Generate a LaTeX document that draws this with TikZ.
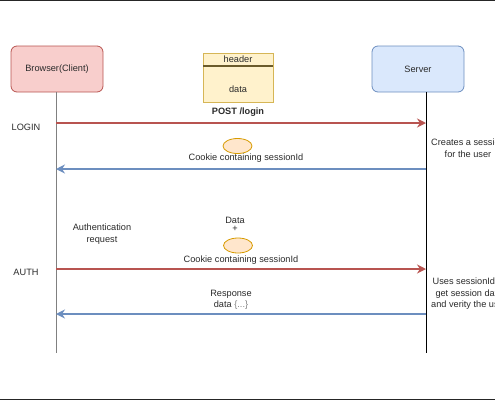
\documentclass[tikz,border=0pt]{standalone}
\usepackage{fontspec}
\setmainfont{Liberation Sans}
\usetikzlibrary{arrows.meta,shapes.geometric}
\definecolor{redfill}{HTML}{F8CECC}
\definecolor{redline}{HTML}{B85450}
\definecolor{bluefill}{HTML}{DAE8FC}
\definecolor{blueline}{HTML}{6C8EBF}
\definecolor{yelfill}{HTML}{FFF2CC}
\definecolor{yelline}{HTML}{D6B656}
\definecolor{orfill}{HTML}{FFE6CC}
\definecolor{orline}{HTML}{D79B00}
\definecolor{txt}{HTML}{2A2A2A}
\tikzset{
  actor/.style={draw, rounded corners=6pt, minimum width=92pt, minimum height=46pt, line width=0.8pt, text=txt, font=\fontsize{9.2}{11}\selectfont},
  lbl/.style={text=txt, font=\fontsize{9.2}{11.5}\selectfont, align=center, inner sep=0pt},
  cookie/.style={draw=orline, fill=orfill, ellipse, line width=0.8pt},
  req/.style={draw=redline, line width=1.6pt, -{Stealth[length=9pt,width=9pt]}},
  resp/.style={draw=blueline, line width=1.6pt, -{Stealth[length=9pt,width=9pt]}},
}
\begin{document}
\begin{tikzpicture}[x=1pt,y=-1pt]
\useasboundingbox (0,0) rectangle (495,400);
\clip (0,0) rectangle (495,400);
\fill[black!85] (0,0) rectangle (495,1.3);
\fill[black!85] (0,398.7) rectangle (495,400);

\node[actor, fill=redfill, draw=redline] (browser) at (57,69) {Browser(Client)};
\node[actor, fill=bluefill, draw=blueline] (server) at (418,69) {Server};

\coordinate (btop) at (56,92);
\coordinate (bend) at (56,353);
\coordinate (stop) at (426,92);
\coordinate (send) at (426,353);
\draw[gray, line width=1pt] (btop) -- (bend);
\draw[black, line width=1pt] (stop) -- (send);

% message box
\node[draw=yelline, fill=yelfill, line width=0.8pt, minimum width=70pt, minimum height=49pt, inner sep=0pt] (msg) at (238,77.5) {};
\coordinate (sepl) at (203,66);
\coordinate (sepr) at (273,66);
\draw[black!50!yelline, line width=1.2pt] (sepl) -- (sepr);
\node[lbl] (hdr) at (238,59.5) {header};
\node[lbl] (dat) at (238,89) {data};
\node[lbl, font=\bfseries\fontsize{9.2}{11}\selectfont] (post) at (238,112) {POST /login};

% LOGIN
\node[lbl] (login) at (26,127) {LOGIN};
\coordinate (b1) at (56,123);
\coordinate (s1) at (426,123);
\draw[req] (b1) -- (s1);
\node[cookie, minimum width=29pt, minimum height=15pt] (ck1) at (237.5,146) {};
\node[lbl] (ct1) at (246,158) {Cookie containing sessionId};
\coordinate (s2) at (426,169);
\coordinate (b2) at (56,169);
\draw[resp] (s2) -- (b2);
\node[lbl] (create) at (468,148) {Creates a session\\for the user};

% AUTH
\node[lbl] (authreq) at (102,234) {Authentication\\request};
\node[lbl] (auth) at (26,272) {AUTH};
\node[lbl] (data2) at (235,220) {Data};
\node[lbl] (plus) at (235,229) {+};
\node[cookie, minimum width=29pt, minimum height=15pt] (ck2) at (238,245.5) {};
\node[lbl] (ct2) at (241,260) {Cookie containing sessionId};
\coordinate (b3) at (56,269);
\coordinate (s3) at (426,269);
\draw[req] (b3) -- (s3);
\node[lbl] (uses) at (469,294) {Uses sessionId to\\get session data\\and verity the user};
\node[lbl] (respd) at (231,300) {Response\\data \textcolor{gray}{\{...\}}};
\coordinate (s4) at (426,314);
\coordinate (b4) at (56,314);
\draw[resp] (s4) -- (b4);
\end{tikzpicture}
\end{document}
